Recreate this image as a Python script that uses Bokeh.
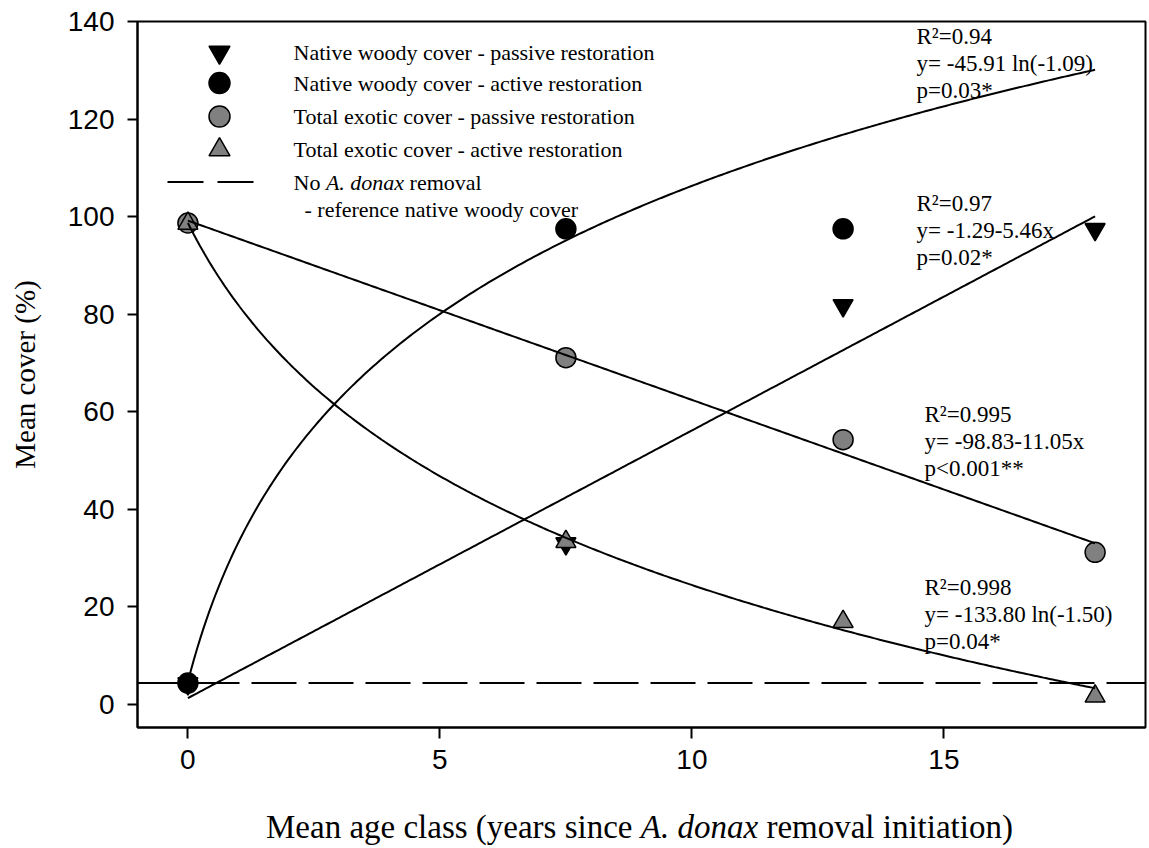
import numpy as np
from bokeh.plotting import figure
from bokeh.layouts import column
from bokeh.models import Range1d, Span, Label, FixedTicker
from bokeh.embed import file_html
from bokeh.resources import INLINE

# ---- data -------------------------------------------------------------
age_years = [0, 7.5, 13, 18]               # mean age class (years)
native_passive = [4.3, 33.0, 81.8, 97.4]   # native woody cover, passive restoration
native_active_years = [0, 7.5, 13]
native_active = [4.4, 97.5, 97.5]          # native woody cover, active restoration
exotic_passive = [98.7, 71.1, 54.3, 31.2]  # total exotic cover, passive restoration
exotic_active = [98.6, 33.4, 17.0, 1.7]    # total exotic cover, active restoration
reference_native_cover = 4.4               # no A. donax removal

# logarithmic regressions y = a + b*ln(x + c)
native_active_fit = (0.9, 43.81, 1.09)
exotic_active_fit = (127.4, -41.41, 2.0)

x_ticks = [0, 5, 10, 15]
y_ticks = [0, 20, 40, 60, 80, 100, 120, 140]

fit_stats = [
    ["R\u00b2=0.94", "y= -45.91 ln(-1.09)", "p=0.03*"],
    ["R\u00b2=0.97", "y= -1.29-5.46x", "p=0.02*"],
    ["R\u00b2=0.995", "y= -98.83-11.05x", "p<0.001**"],
    ["R\u00b2=0.998", "y= -133.80 ln(-1.50)", "p=0.04*"],
]

legend_labels = [
    "Native woody cover - passive restoration",
    "Native woody cover - active restoration",
    "Total exotic cover - passive restoration",
    "Total exotic cover - active restoration",
]

# ---- figure -------------------------------------------------------------
SERIF = "Liberation Serif"
SANS = "Liberation Sans"
GREY = "#808080"
W, H_MAIN, H_TITLE = 1149, 790, 58
FRAME_L, FRAME_R, FRAME_T, FRAME_B = 137, 1145, 21, 727

p = figure(width=W, height=H_MAIN, x_range=Range1d(-1, 19), y_range=Range1d(-4.7, 140),
           output_backend="svg", toolbar_location=None,
           min_border_left=FRAME_L, min_border_right=W - FRAME_R,
           min_border_top=FRAME_T, min_border_bottom=H_MAIN - FRAME_B,
           background_fill_color="white", border_fill_color="white")
p.grid.visible = False
p.outline_line_color = "black"
p.outline_line_width = 2

# pixel coordinate system (origin top-left of the canvas) for legend and notes
p.extra_x_ranges = {"px": Range1d(FRAME_L, FRAME_R)}
p.extra_y_ranges = {"px": Range1d(FRAME_B, FRAME_T)}

for ax in (p.xaxis[0], p.yaxis[0]):
    ax.axis_line_width = 2
    ax.major_tick_line_width = 2
    ax.major_tick_in = 0
    ax.minor_tick_line_color = None
    ax.major_label_text_font = SANS
    ax.major_label_text_font_size = "28px"
    ax.major_label_text_color = "black"

p.xaxis.ticker = FixedTicker(ticks=x_ticks)
p.xaxis.major_tick_out = 11
p.xaxis.major_label_standoff = 11

p.yaxis.ticker = FixedTicker(ticks=y_ticks)
p.yaxis.major_tick_out = 10
p.yaxis.major_label_standoff = 13
p.yaxis.axis_label = "Mean cover (%)"
p.yaxis.axis_label_text_font = SERIF
p.yaxis.axis_label_text_font_size = "29px"
p.yaxis.axis_label_text_font_style = "normal"
p.yaxis.axis_label_text_color = "black"
p.yaxis.axis_label_standoff = 24

# reference native woody cover without removal
p.add_layout(Span(location=reference_native_cover, dimension="width",
                  line_color="black", line_width=2, line_dash="45 12"))

# ---- observations ----------------------------------------------------------
SIZE = 20
p.scatter(age_years, native_passive, marker="inverted_triangle", size=SIZE,
          fill_color="black", line_color="black", line_width=1.5)
p.scatter(native_active_years, native_active, marker="circle", size=SIZE,
          fill_color="black", line_color="black", line_width=1.5)
p.scatter(age_years, exotic_passive, marker="circle", size=SIZE,
          fill_color=GREY, line_color="black", line_width=1.5)
p.scatter(age_years, exotic_active, marker="triangle", size=SIZE,
          fill_color=GREY, line_color="black", line_width=1.5)

# ---- regressions -----------------------------------------------------------
xs = np.linspace(age_years[0], age_years[-1], 300)
lin_np = np.polyfit(age_years, native_passive, 1)
lin_ep = np.polyfit(age_years, exotic_passive, 1)
p.line(xs, np.polyval(lin_np, xs), line_color="black", line_width=2)
p.line(xs, np.polyval(lin_ep, xs), line_color="black", line_width=2)
for a, b, c in (native_active_fit, exotic_active_fit):
    p.line(xs, a + b * np.log(xs + c), line_color="black", line_width=2)


def note(fig, x, y, txt, size="22px", style="normal", **kw):
    fig.add_layout(Label(x=x, y=y, text=txt, text_font=SERIF, text_font_size=size,
                         text_font_style=style, text_baseline="middle",
                         text_color="black", **kw))


# ---- regression statistics -------------------------------------------------
stat_x = [916, 916, 924, 924]
stat_y = [36, 203, 414, 587]
LINE_GAP = 27
for sx, sy, lines in zip(stat_x, stat_y, fit_stats):
    for i, txt in enumerate(lines):
        note(p, sx, sy + i * LINE_GAP, txt, size="23px", x_range_name="px", y_range_name="px")

# ---- legend ------------------------------------------------------------------
leg_x, text_x = 219, 293
rows = [51.7, 82.6, 116, 149.3, 181.5, 209]
leg_styles = [("inverted_triangle", "black"), ("circle", "black"),
              ("circle", GREY), ("triangle", GREY)]
for (mk, fill), ry, txt in zip(leg_styles, rows, legend_labels):
    p.scatter([leg_x], [ry], marker=mk, size=21, fill_color=fill, line_color="black",
              line_width=1.5, x_range_name="px", y_range_name="px")
    note(p, text_x, ry, txt, x_range_name="px", y_range_name="px")

p.segment(x0=[167], y0=[rows[4]], x1=[254], y1=[rows[4]], line_color="black", line_width=2,
          line_dash="36 14", x_range_name="px", y_range_name="px")
for txt, dx, style in (("No", 0, "normal"), ("A. donax", 32.4, "italic"), ("removal", 116.1, "normal")):
    note(p, text_x + dx, rows[4], txt, style=style, x_range_name="px", y_range_name="px")
note(p, text_x + 11, rows[5], "- reference native woody cover",
     x_range_name="px", y_range_name="px")

# ---- x axis title (with italic genus name) ---------------------------------
# frames of the stacked plots are aligned, so this strip shares the pixel scale
t = figure(width=W, height=H_TITLE, x_range=Range1d(FRAME_L, FRAME_R),
           y_range=Range1d(H_TITLE, 0), output_backend="svg", toolbar_location=None,
           min_border=0, background_fill_color="white", border_fill_color="white")
t.axis.visible = False
t.grid.visible = False
t.outline_line_color = None
title_y = 826 - H_MAIN
for txt, xx, style in (("Mean age class (years since", 265.5, "normal"),
                       ("A. donax", 640.3, "italic"),
                       ("removal initiation)", 765.9, "normal")):
    note(t, xx, title_y, txt, size="33px", style=style)

layout = column(p, t, spacing=0)
open("out.html", "w").write(file_html(layout, INLINE))
